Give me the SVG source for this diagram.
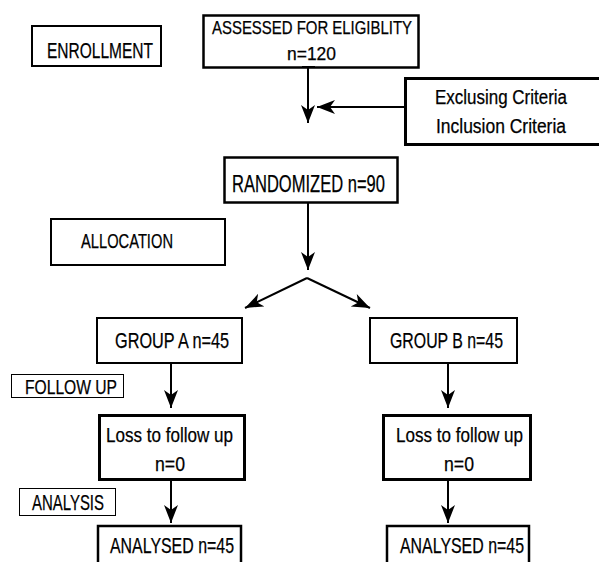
<svg xmlns="http://www.w3.org/2000/svg" width="599" height="562" viewBox="0 0 599 562">
<style>
text{font-family:"Liberation Sans",Arial,sans-serif;fill:#000;stroke:#000;stroke-width:0.25;}
.b{fill:#fff;stroke:#000;}
.c{stroke:#000;stroke-width:2;fill:none;}
</style>
<defs>
<marker id="ah" markerUnits="userSpaceOnUse" markerWidth="20" markerHeight="16" refX="18" refY="7" orient="auto" viewBox="0 0 20 14">
<path d="M0,0 L18,7 L0,14 L5,7 z" fill="#000"/>
</marker>
</defs>
<rect width="599" height="562" fill="#fff"/>
<g id="enrollment"><rect class="b" x="32" y="26" width="129" height="40" stroke-width="2"/><text x="47" y="58" font-size="22.5" textLength="106" lengthAdjust="spacingAndGlyphs">ENROLLMENT</text></g>
<g id="assessed"><rect class="b" x="203.5" y="15.5" width="215" height="52" stroke-width="2.5"/><text x="212" y="34" font-size="18" textLength="200" lengthAdjust="spacingAndGlyphs">ASSESSED FOR ELIGIBLITY</text><text x="287" y="60" font-size="18" textLength="49" lengthAdjust="spacingAndGlyphs">n=120</text></g>
<g id="criteria"><rect class="b" x="405.5" y="78.5" width="196" height="66" stroke-width="3"/><text x="435" y="104" font-size="20" textLength="132" lengthAdjust="spacingAndGlyphs">Exclusing Criteria</text><text x="436" y="133" font-size="20" textLength="130" lengthAdjust="spacingAndGlyphs">Inclusion Criteria</text></g>
<g id="randomized"><rect class="b" x="224.5" y="157.5" width="173" height="45" stroke-width="2.5"/><text x="232" y="192" font-size="23" textLength="153" lengthAdjust="spacingAndGlyphs">RANDOMIZED n=90</text></g>
<g id="allocation"><rect class="b" x="51" y="219" width="174" height="46" stroke-width="2"/><text x="81" y="248" font-size="21" textLength="92" lengthAdjust="spacingAndGlyphs">ALLOCATION</text></g>
<g id="groupA"><rect class="b" x="97" y="318" width="145" height="45" stroke-width="2"/><text x="115" y="348" font-size="22.5" textLength="114" lengthAdjust="spacingAndGlyphs">GROUP A n=45</text></g>
<g id="groupB"><rect class="b" x="370" y="318" width="147" height="45" stroke-width="2"/><text x="390" y="348" font-size="22.5" textLength="113" lengthAdjust="spacingAndGlyphs">GROUP B n=45</text></g>
<g id="followup"><rect class="b" x="11.5" y="374.5" width="112" height="23" stroke-width="1"/><text x="25" y="394" font-size="21" textLength="92" lengthAdjust="spacingAndGlyphs">FOLLOW UP</text></g>
<g id="lossA"><rect class="b" x="99.5" y="415.5" width="145" height="64" stroke-width="3"/><text x="106" y="442" font-size="21" textLength="127" lengthAdjust="spacingAndGlyphs">Loss to follow up</text><text x="155" y="471" font-size="21" textLength="30" lengthAdjust="spacingAndGlyphs">n=0</text></g>
<g id="lossB"><rect class="b" x="383.5" y="415.5" width="147" height="64" stroke-width="3"/><text x="396" y="442" font-size="21" textLength="127" lengthAdjust="spacingAndGlyphs">Loss to follow up</text><text x="444" y="471" font-size="21" textLength="30" lengthAdjust="spacingAndGlyphs">n=0</text></g>
<g id="analysis"><rect class="b" x="19.5" y="488.5" width="96" height="27" stroke-width="1"/><text x="32" y="510" font-size="22" textLength="72" lengthAdjust="spacingAndGlyphs">ANALYSIS</text></g>
<g id="analysedA"><rect class="b" x="98" y="526" width="143" height="40" stroke-width="2.5"/><text x="110" y="553" font-size="22.5" textLength="124" lengthAdjust="spacingAndGlyphs">ANALYSED n=45</text></g>
<g id="analysedB"><rect class="b" x="387" y="526" width="142" height="40" stroke-width="2.5"/><text x="400" y="553" font-size="22.5" textLength="124" lengthAdjust="spacingAndGlyphs">ANALYSED n=45</text></g>
<g id="connectors">
<line class="c" x1="302" y1="67" x2="315" y2="67" stroke-width="2.5"/>
<line class="c" x1="308" y1="67" x2="308" y2="123" marker-end="url(#ah)"/>
<line class="c" x1="405" y1="107" x2="317" y2="107" marker-end="url(#ah)"/>
<line class="c" x1="308" y1="203" x2="308" y2="270" marker-end="url(#ah)"/>
<line class="c" x1="307" y1="278" x2="245" y2="308" marker-end="url(#ah)"/>
<line class="c" x1="307" y1="278" x2="370" y2="308" marker-end="url(#ah)"/>
<line class="c" x1="171" y1="363" x2="171" y2="408" marker-end="url(#ah)"/>
<line class="c" x1="448" y1="363" x2="448" y2="408" marker-end="url(#ah)"/>
<line class="c" x1="171" y1="480" x2="171" y2="523" marker-end="url(#ah)"/>
<line class="c" x1="448" y1="480" x2="448" y2="523" marker-end="url(#ah)"/>
</g>
</svg>
